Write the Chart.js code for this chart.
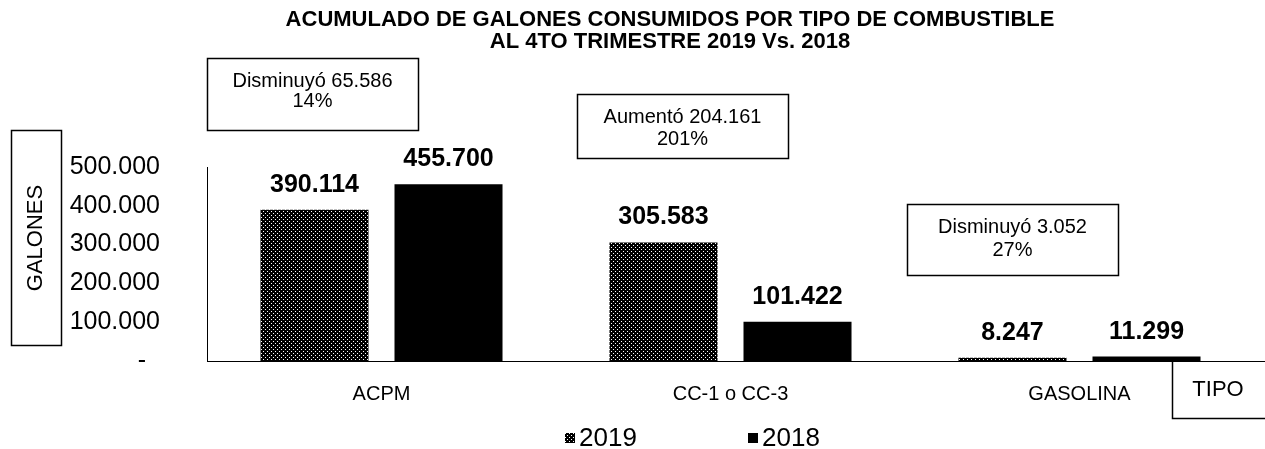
<!DOCTYPE html>
<html><head><meta charset="utf-8">
<script src="https://cdn.jsdelivr.net/npm/chart.js@4.4.1/dist/chart.umd.min.js"></script>
<style>html,body{margin:0;padding:0;background:#fff;}#wrap{width:1265px;height:449px;}</style>
</head><body><div id="wrap"><canvas id="c" width="1265" height="449"></canvas></div>
<script>
const categories = ['ACPM', 'CC-1 o CC-3', 'GASOLINA'];
const values2019 = [390114, 305583, 8247];
const values2018 = [455700, 101422, 11299];
const seriesLabels = ['2019', '2018'];
const yTicks = [0, 100000, 200000, 300000, 400000, 500000];
const titleLines = ['ACUMULADO DE GALONES CONSUMIDOS POR TIPO DE COMBUSTIBLE', 'AL 4TO TRIMESTRE 2019 Vs. 2018'];
const noteLines = [['Disminuyó 65.586', '14%'], ['Aumentó 204.161', '201%'], ['Disminuyó 3.052', '27%']];
const yTitle = 'GALONES';
const xTitle = 'TIPO';

const F = "'Liberation Sans', Arial, sans-serif";
const fmt = n => String(n).replace(/\B(?=(\d{3})+(?!\d))/g, '.');

const canvas = document.getElementById('c');
const ctx = canvas.getContext('2d');

// dotted pattern for 2019
const pc = document.createElement('canvas');
pc.width = 4; pc.height = 4;
const pctx = pc.getContext('2d');
pctx.fillStyle = '#000'; pctx.fillRect(0, 0, 4, 4);
pctx.fillStyle = '#fff'; pctx.fillRect(1, 1, 1, 1); pctx.fillRect(3, 3, 1, 1);
const pat = ctx.createPattern(pc, 'repeat');

const deco = {
  id: 'deco',
  afterDraw(chart) {
    const c = chart.ctx;
    const ca = chart.chartArea;
    c.save();
    c.fillStyle = '#000';
    c.strokeStyle = '#000';
    // title
    c.font = 'bold 22px ' + F;
    c.textAlign = 'center'; c.textBaseline = 'middle';
    c.fillText(titleLines[0], 670, 20);
    c.fillText(titleLines[1], 670, 42);

    // x axis extension
    c.lineWidth = 1;
    c.beginPath(); c.moveTo(ca.right, ca.bottom + 0.5); c.lineTo(1265, ca.bottom + 0.5); c.stroke();

    // note boxes
    const boxes = [
      {x: 207, y: 58, w: 211, h: 72, l1: 81, l2: 101},
      {x: 577, y: 94, w: 211, h: 64, l1: 117, l2: 139},
      {x: 907, y: 204, w: 211, h: 71, l1: 227, l2: 250}
    ];
    c.lineWidth = 1.5;
    c.font = '20px ' + F;
    boxes.forEach((b, i) => {
      c.fillStyle = '#fff';
      c.fillRect(b.x, b.y, b.w, b.h);
      c.strokeRect(b.x + 0.5, b.y + 0.5, b.w, b.h);
      c.fillStyle = '#000';
      c.fillText(noteLines[i][0], b.x + b.w / 2, b.l1);
      c.fillText(noteLines[i][1], b.x + b.w / 2, b.l2);
    });

    // y title box
    c.strokeRect(11.5, 130.5, 50, 215);
    c.save();
    c.translate(36, 238);
    c.rotate(-Math.PI / 2);
    c.font = '22px ' + F;
    c.fillText(yTitle, 0, 0);
    c.restore();

    // x title box
    c.beginPath();
    c.moveTo(1172.5, ca.bottom + 1); c.lineTo(1172.5, 418.5); c.lineTo(1265, 418.5);
    c.stroke();
    c.font = '22px ' + F;
    c.fillText(xTitle, 1218, 390);

    // data labels
    c.font = 'bold 25px ' + F;
    chart.data.datasets.forEach((ds, di) => {
      const meta = chart.getDatasetMeta(di);
      meta.data.forEach((el, i) => {
        c.fillText(fmt(ds.data[i]), el.x, el.y - 25);
      });
    });

    // legend
    const legX = [565, 748];
    c.font = '26px ' + F;
    c.textAlign = 'left';
    chart.data.datasets.forEach((ds, di) => {
      c.fillStyle = ds.backgroundColor;
      c.fillRect(legX[di], 433, 10, 10);
      c.fillStyle = '#000';
      c.fillText(ds.label, legX[di] + 14, 439);
    });
    c.restore();
  }
};

new Chart(ctx, {
  type: 'bar',
  data: {
    labels: categories,
    datasets: [
      {label: seriesLabels[0], data: values2019, backgroundColor: pat, borderWidth: 0},
      {label: seriesLabels[1], data: values2018, backgroundColor: '#000', borderWidth: 0}
    ]
  },
  options: {
    responsive: false,
    animation: false,
    layout: {padding: {top: 167, right: 11, bottom: 48, left: 0}},
    datasets: {bar: {categoryPercentage: 0.768, barPercentage: 0.806}},
    plugins: {legend: {display: false}, title: {display: false}, tooltip: {enabled: false}},
    scales: {
      x: {
        grid: {display: false, drawTicks: false},
        border: {display: true, color: '#000', width: 1},
        ticks: {color: '#000', font: {family: F, size: 20}, padding: 21},
        afterFit: s => { s.height = 40; }
      },
      y: {
        min: 0, max: 500000,
        afterBuildTicks: s => { s.ticks = yTicks.map(v => ({value: v})); },
        grid: {display: false, drawTicks: false},
        border: {display: true, color: '#000', width: 1},
        ticks: {color: '#000', font: {family: F, size: 25}, padding: 47,
          callback: v => v === 0 ? '-  ' : fmt(v)},
        afterFit: s => { s.width = 207; }
      }
    }
  },
  plugins: [deco]
});
</script>
</body></html>
